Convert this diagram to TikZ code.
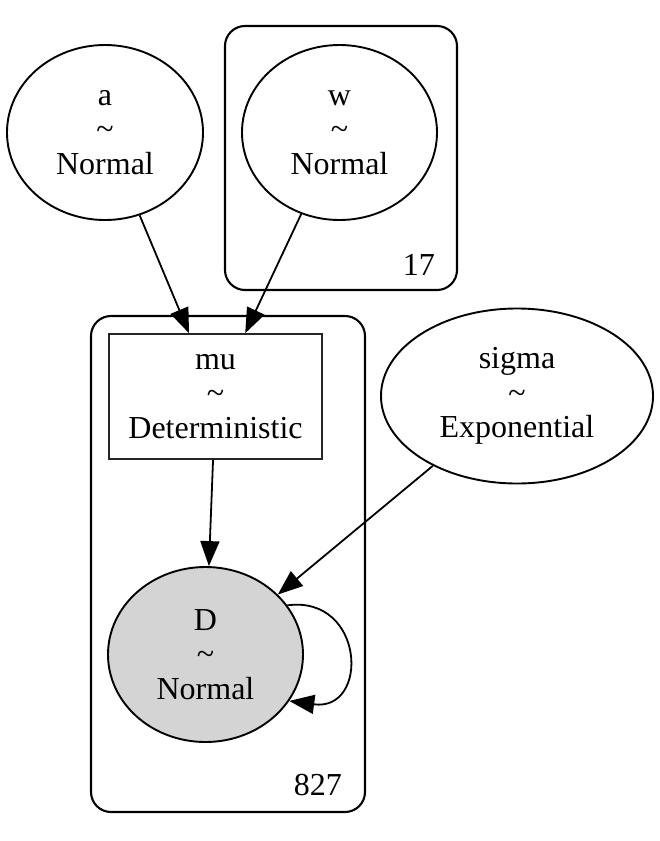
\documentclass[tikz,border=0pt]{standalone}
\usepackage{fontspec}
\setmainfont{Liberation Serif}
\usetikzlibrary{shapes.geometric,arrows.meta}
\begin{document}
\begin{tikzpicture}[x=1pt,y=-1pt,
  lbl/.style={font=\fontsize{32}{34.5}\selectfont},
  rv/.style={lbl,draw,ellipse,line width=1.9pt,inner sep=0pt,align=center},
  detbox/.style={lbl,draw=black!85,rectangle,line width=1.6pt,inner sep=0pt,align=center},
  plate/.style={draw,rectangle,rounded corners=20pt,line width=2.1pt,inner sep=0pt},
  edge/.style={line width=1.8pt,-{Triangle[length=25pt,width=19pt]}}
]
\useasboundingbox (0,0) rectangle (660,841);
% plates
\node[plate,minimum width=232pt,minimum height=264pt] (plate17) at (341,158) {};
\node[plate,minimum width=274pt,minimum height=496pt] (plate827) at (228,564) {};
\node[lbl,anchor=base east,inner sep=0pt] (n17) at (435,275) {17};
\node[lbl,anchor=base east,inner sep=0pt] (n827) at (342,795) {827};
% nodes
\node[rv,minimum width=196pt,minimum height=175pt] (a) at (105,132.5) {a\\\textasciitilde\\Normal};
\node[rv,minimum width=195pt,minimum height=175pt] (w) at (339.5,132.5) {w\\\textasciitilde\\Normal};
\node[detbox,minimum width=213pt,minimum height=125pt] (mu) at (215.5,396.5) {mu\\\textasciitilde\\Deterministic};
\node[rv,minimum width=272pt,minimum height=175pt] (sigma) at (517,396) {sigma\\\textasciitilde\\Exponential};
\node[rv,fill=black!17,minimum width=195pt,minimum height=175pt] (D) at (205.5,654.5) {D\\\textasciitilde\\Normal};
% edges
\draw[edge] (a) -- (mu);
\draw[edge] (w) -- (mu);
\draw[edge] (mu) -- (D);
\draw[edge] (sigma) -- (D);
\draw[edge] (D.31) .. controls (365,595) and (370,712) .. (D.-29);
\end{tikzpicture}
\end{document}
